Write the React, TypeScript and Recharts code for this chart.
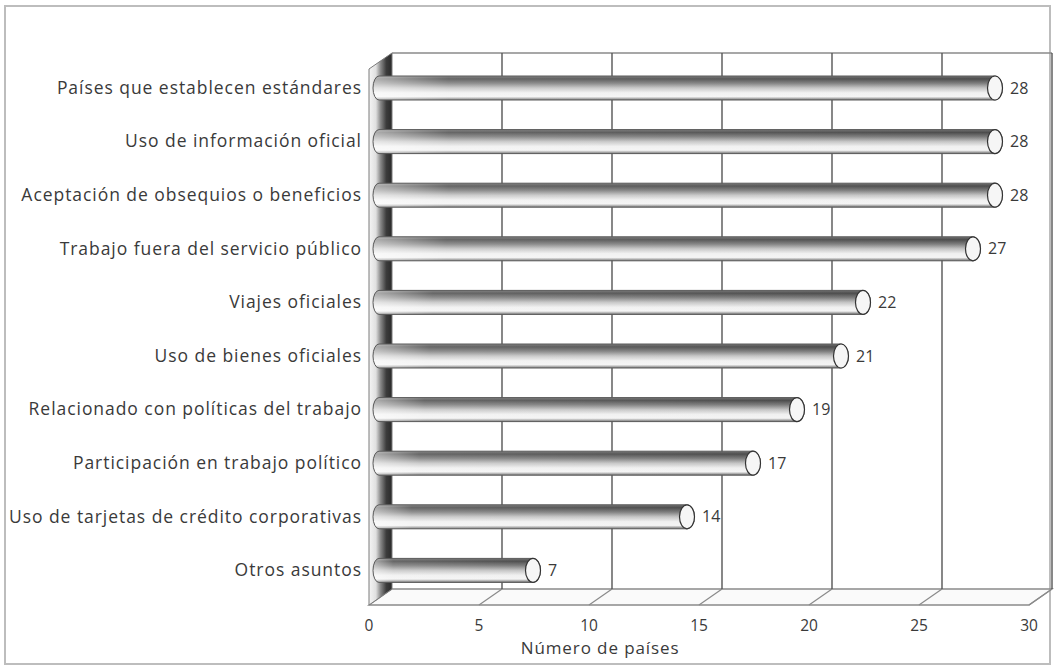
import { BarChart, Bar, XAxis, YAxis, CartesianGrid } from 'recharts'

const categories = [
  'Países que establecen estándares',
  'Uso de información oficial',
  'Aceptación de obsequios o beneficios',
  'Trabajo fuera del servicio público',
  'Viajes oficiales',
  'Uso de bienes oficiales',
  'Relacionado con políticas del trabajo',
  'Participación en trabajo político',
  'Uso de tarjetas de crédito corporativas',
  'Otros asuntos',
]
const values = [28, 28, 28, 27, 22, 21, 19, 17, 14, 7]
const xTicks = [0, 5, 10, 15, 20, 25, 30]

const data = categories.map((name, i) => ({ name, value: values[i] }))

// depth offsets of the 3D frame, relative to the plane the bars sit in
const FRONT = { dx: -10, dy: 8 }
const BACK = { dx: 13, dy: -8 }
const FONT = '"Open Sans", sans-serif'
const TEXT = '#3a3a3a'

const gridLine = (p: any) => {
  const { x1, y1, y2, index } = p
  const top = y1
  const bottom = y2
  const items = []
  if (index === 0) {
    const left = x1
    const right = p.x != null && p.width != null ? p.x + p.width : x1 + 660
    items.push(
      <polygon
        key="floor"
        points={`${left + FRONT.dx},${bottom + FRONT.dy} ${right + FRONT.dx},${bottom + FRONT.dy} ${right + BACK.dx},${bottom + BACK.dy} ${left + BACK.dx},${bottom + BACK.dy}`}
        fill="#fafafa"
        stroke="#8a8a8a"
        strokeWidth={1.3}
      />,
      <line key="top" x1={left + BACK.dx} y1={top + BACK.dy} x2={right + BACK.dx} y2={top + BACK.dy} stroke="#8a8a8a" strokeWidth={1.3} />,
      <polygon
        key="wall"
        points={`${left + FRONT.dx},${top + FRONT.dy} ${left + BACK.dx},${top + BACK.dy} ${left + BACK.dx},${bottom + BACK.dy} ${left + FRONT.dx},${bottom + FRONT.dy}`}
        fill="url(#wallGrad)"
        stroke="#7a7a7a"
        strokeWidth={1}
      />,
    )
  } else {
    items.push(
      <line key="floorTick" x1={x1 + FRONT.dx} y1={bottom + FRONT.dy} x2={x1 + BACK.dx} y2={bottom + BACK.dy} stroke="#8a8a8a" strokeWidth={1.3} />,
      <line key="back" x1={x1 + BACK.dx} y1={top + BACK.dy} x2={x1 + BACK.dx} y2={bottom + BACK.dy} stroke="#555" strokeWidth={1.4} />,
    )
  }
  return <g key={`grid-${index}`}>{items}</g>
}

const Cylinder = (p: any) => {
  const { x, y, width, height, payload } = p
  const ry = height / 2
  const end = x + width
  const body = `M ${x},${y} L ${end},${y} A 7.5 ${ry} 0 0 1 ${end},${y + height} L ${x},${y + height} A 6 ${ry} 0 0 1 ${x},${y} Z`
  return (
    <g>
      <path d={body} fill="url(#barGrad)" />
      <path d={body} fill="url(#barFade)" stroke="#5a5a5a" strokeWidth={1} />
      <ellipse cx={end} cy={y + ry} rx={7.5} ry={ry} fill="#f6f6f6" stroke="#333" strokeWidth={1.2} />
      <text x={end + 15} y={y + ry + 5.5} fontFamily={FONT} fontSize={16} fill={TEXT}>
        {payload.value}
      </text>
    </g>
  )
}

const CategoryTick = (p: any) => (
  <text x={p.x - 17} y={p.y + 6} textAnchor="end" fontFamily={FONT} fontSize={17.5} letterSpacing={0.95} fill={TEXT}>
    {p.payload.value}
  </text>
)

const ValueTick = (p: any) => (
  <text x={p.x + FRONT.dx} y={p.y + 34} textAnchor="middle" fontFamily={FONT} fontSize={15.5} fill={TEXT}>
    {p.payload.value}
  </text>
)

export default function App() {
  return (
    <div style={{ position: 'absolute', left: 0, top: 0, width: 1057, height: 670, background: '#fff' }}>
      <div
        style={{
          position: 'absolute',
          left: 4,
          top: 5,
          width: 1047,
          height: 660,
          border: '2px solid #bdbdbd',
          boxSizing: 'border-box',
        }}
      />
      <BarChart
        width={1057}
        height={670}
        data={data}
        layout="vertical"
        margin={{ top: 61, right: 18, bottom: 13, left: 11 }}
        barSize={24}
        style={{ position: 'absolute', left: 0, top: 0 }}
      >
        <defs>
          <linearGradient id="barGrad" x1="0" y1="0" x2="0" y2="1">
            <stop offset="0" stopColor="#707070" />
            <stop offset="0.12" stopColor="#4c4c4c" />
            <stop offset="0.3" stopColor="#7c7c7c" />
            <stop offset="0.5" stopColor="#c4c4c4" />
            <stop offset="0.7" stopColor="#f0f0f0" />
            <stop offset="0.86" stopColor="#f4f4f4" />
            <stop offset="0.95" stopColor="#9a9a9a" />
            <stop offset="1" stopColor="#666" />
          </linearGradient>
          <linearGradient id="barFade" x1="0" y1="0" x2="1" y2="0">
            <stop offset="0" stopColor="#fff" stopOpacity={0.55} />
            <stop offset="0.12" stopColor="#fff" stopOpacity={0.15} />
            <stop offset="1" stopColor="#fff" stopOpacity={0} />
          </linearGradient>
          <linearGradient id="wallGrad" x1="0" y1="0" x2="1" y2="0">
            <stop offset="0" stopColor="#f5f5f5" />
            <stop offset="0.3" stopColor="#e0e0e0" />
            <stop offset="0.5" stopColor="#8a8a8a" />
            <stop offset="0.75" stopColor="#3c3c3c" />
            <stop offset="1" stopColor="#2a2a2a" />
          </linearGradient>
        </defs>
        <CartesianGrid horizontal={false} vertical={gridLine} />
        <XAxis
          type="number"
          domain={[0, 30]}
          ticks={xTicks}
          axisLine={false}
          tickLine={false}
          tickSize={0}
          tickMargin={0}
          height={60}
          tick={ValueTick}
          label={{
            content: (p: any) => (
              <text
                x={p.viewBox.x + p.viewBox.width * 0.335}
                y={p.viewBox.y + 57}
                textAnchor="middle"
                fontFamily={FONT}
                fontSize={17}
                letterSpacing={0.9}
                fill={TEXT}
              >
                Número de países
              </text>
            ),
          }}
        />
        <YAxis
          type="category"
          dataKey="name"
          width={368}
          axisLine={false}
          tickLine={false}
          tickSize={0}
          tickMargin={0}
          interval={0}
          tick={CategoryTick}
        />
        <Bar dataKey="value" shape={Cylinder} isAnimationActive={false} />
      </BarChart>
    </div>
  )
}
